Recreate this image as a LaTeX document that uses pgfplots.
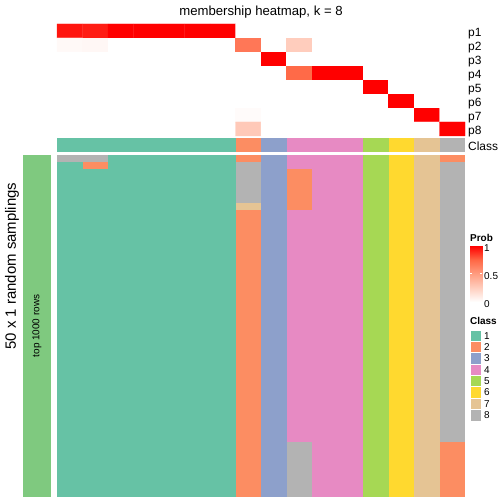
\documentclass[border=0pt]{standalone}
\usepackage{pgfplots}
\pgfplotsset{compat=1.18}
\usepackage{fontspec}
\setmainfont{Liberation Sans}
\definecolor{c1}{RGB}{102,194,165}
\definecolor{c2}{RGB}{252,141,98}
\definecolor{c3}{RGB}{141,160,203}
\definecolor{c4}{RGB}{231,138,195}
\definecolor{c5}{RGB}{166,216,84}
\definecolor{c6}{RGB}{255,217,47}
\definecolor{c7}{RGB}{229,196,148}
\definecolor{c8}{RGB}{179,179,179}
\definecolor{ann}{RGB}{127,201,127}
\newcommand{\blk}[5]{\addplot[fill=#5,draw=none] coordinates {(#1,#3) (#2,#3) (#2,#4) (#1,#4)} -- cycle;}
\pgfplotsset{
  wrmap/.style={colormap={wr}{rgb255=(255,255,255) rgb255=(255,207,191) rgb255=(255,158,130) rgb255=(255,104,70) rgb255=(255,0,0)}},
  bare/.style={scale only axis, axis line style={draw=none}, major tick length=0pt, xtick=\empty, ytick=\empty, clip=false},
}
\begin{document}
\begin{tikzpicture}
\path[use as bounding box] (0,0) rectangle (504bp,504bp);

% probability heatmap
\begin{axis}[bare, at={(57bp,480bp)}, anchor=north west, width=408bp, height=112bp,
  xmin=0.5, xmax=16.5, ymin=0.5, ymax=8.5, y dir=reverse,
  ytick={1,2,3,4,5,6,7,8}, yticklabels={p1,p2,p3,p4,p5,p6,p7,p8}, yticklabel pos=right,
  yticklabel style={anchor=west, inner sep=0pt, xshift=3bp, yshift=-2.5bp, font=\fontsize{12}{14}\selectfont},
  wrmap, point meta min=0, point meta max=1,
  title={membership heatmap, k = 8},
  title style={at={(0.5,1)}, anchor=base, inner sep=0pt, yshift=2.5bp, font=\fontsize{13.2}{15}\selectfont},
]
\addplot[matrix plot*, mesh/cols=16, point meta=explicit] coordinates {
(1,1)[0.95] (2,1)[0.93] (3,1)[1] (4,1)[1] (5,1)[1] (6,1)[1] (7,1)[1] (8,1)[0] (9,1)[0] (10,1)[0] (11,1)[0] (12,1)[0] (13,1)[0] (14,1)[0] (15,1)[0] (16,1)[0]
(1,2)[0.03] (2,2)[0.04] (3,2)[0] (4,2)[0] (5,2)[0] (6,2)[0] (7,2)[0] (8,2)[0.68] (9,2)[0] (10,2)[0.26] (11,2)[0] (12,2)[0] (13,2)[0] (14,2)[0] (15,2)[0] (16,2)[0]
(1,3)[0] (2,3)[0] (3,3)[0] (4,3)[0] (5,3)[0] (6,3)[0] (7,3)[0] (8,3)[0] (9,3)[1] (10,3)[0] (11,3)[0] (12,3)[0] (13,3)[0] (14,3)[0] (15,3)[0] (16,3)[0]
(1,4)[0] (2,4)[0] (3,4)[0] (4,4)[0] (5,4)[0] (6,4)[0] (7,4)[0] (8,4)[0] (9,4)[0] (10,4)[0.74] (11,4)[1] (12,4)[1] (13,4)[0] (14,4)[0] (15,4)[0] (16,4)[0]
(1,5)[0] (2,5)[0] (3,5)[0] (4,5)[0] (5,5)[0] (6,5)[0] (7,5)[0] (8,5)[0] (9,5)[0] (10,5)[0] (11,5)[0] (12,5)[0] (13,5)[1] (14,5)[0] (15,5)[0] (16,5)[0]
(1,6)[0] (2,6)[0] (3,6)[0] (4,6)[0] (5,6)[0] (6,6)[0] (7,6)[0] (8,6)[0] (9,6)[0] (10,6)[0] (11,6)[0] (12,6)[0] (13,6)[0] (14,6)[1] (15,6)[0] (16,6)[0]
(1,7)[0] (2,7)[0] (3,7)[0] (4,7)[0] (5,7)[0] (6,7)[0] (7,7)[0] (8,7)[0.02] (9,7)[0] (10,7)[0] (11,7)[0] (12,7)[0] (13,7)[0] (14,7)[0] (15,7)[1] (16,7)[0]
(1,8)[0] (2,8)[0] (3,8)[0] (4,8)[0] (5,8)[0] (6,8)[0] (7,8)[0] (8,8)[0.28] (9,8)[0] (10,8)[0] (11,8)[0] (12,8)[0] (13,8)[0] (14,8)[0] (15,8)[0] (16,8)[1]
};
\end{axis}

% class row
\begin{axis}[bare, at={(57bp,366bp)}, anchor=north west, width=408bp, height=14bp,
  xmin=0, xmax=16, ymin=0, ymax=1,
  ytick={0.5}, yticklabels={Class}, yticklabel pos=right,
  yticklabel style={anchor=west, inner sep=0pt, xshift=3bp, yshift=-1bp, font=\fontsize{12}{14}\selectfont},
]
\blk{0}{7}{0}{1}{c1}
\blk{7}{8}{0}{1}{c2}
\blk{8}{9}{0}{1}{c3}
\blk{9}{12}{0}{1}{c4}
\blk{12}{13}{0}{1}{c5}
\blk{13}{14}{0}{1}{c6}
\blk{14}{15}{0}{1}{c7}
\blk{15}{16}{0}{1}{c8}
\end{axis}

% main membership matrix (50 samplings)
\begin{axis}[bare, at={(57bp,349bp)}, anchor=north west, width=408bp, height=342bp,
  xmin=0, xmax=16, ymin=0, ymax=50, y dir=reverse]
\blk{0}{7}{0}{50}{c1}
\blk{7}{8}{0}{50}{c2}
\blk{8}{9}{0}{50}{c3}
\blk{9}{12}{0}{50}{c4}
\blk{12}{13}{0}{50}{c5}
\blk{13}{14}{0}{50}{c6}
\blk{14}{15}{0}{50}{c7}
\blk{15}{16}{0}{50}{c8}
\blk{0}{2}{0}{1}{c8}
\blk{1}{2}{1}{2}{c2}
\blk{7}{8}{1}{7}{c8}
\blk{7}{8}{7}{8}{c7}
\blk{9}{10}{2}{8}{c2}
\blk{9}{10}{42}{50}{c8}
\blk{15}{16}{0}{1}{c2}
\blk{15}{16}{42}{50}{c2}
\end{axis}

% left annotation
\begin{axis}[bare, at={(23bp,349bp)}, anchor=north west, width=28bp, height=342bp,
  xmin=0, xmax=1, ymin=0, ymax=1,
  xlabel={top 1000 rows},
  xlabel style={at={(axis description cs:0.5,0.5)}, anchor=center, rotate=90, inner sep=0pt, font=\fontsize{10}{12}\selectfont},
  ylabel={50 x 1 random samplings},
  ylabel style={at={(axis description cs:-0.393,0.675)}, anchor=center, inner sep=0pt, font=\fontsize{15}{17}\selectfont},
]
\addplot[fill=ann, draw=none] coordinates {(0,0) (1,0) (1,1) (0,1)} -- cycle;
\end{axis}

% Prob legend
\begin{axis}[scale only axis, at={(470bp,258.3bp)}, anchor=north west, width=12bp, height=56.3bp,
  xmin=0, xmax=1, ymin=0, ymax=1, axis line style={draw=none}, xtick=\empty,
  ytick={0,0.5,1}, yticklabels={0,0.5,1}, ytick pos=both, yticklabel pos=right,
  tick align=inside, major tick length=2bp, tick style={white, line width=0.8bp},
  yticklabel style={anchor=west, inner sep=0pt, xshift=2bp, yshift=-2.5bp, font=\fontsize{10}{12}\selectfont},
  axis on top, wrmap, point meta min=0, point meta max=1,
  title={\bfseries Prob},
  title style={at={(0,1)}, anchor=base west, inner sep=0pt, yshift=-1.3bp, font=\fontsize{10}{12}\selectfont},
]
\addplot[patch, patch type=rectangle, shader=interp, point meta=explicit] coordinates {(0,0)[0] (1,0)[0] (1,1)[1] (0,1)[1]};
\end{axis}

% Class legend
\begin{axis}[bare, at={(470bp,174bp)}, anchor=north west, width=11bp, height=91bp,
  xmin=0, xmax=1, ymin=0, ymax=8, y dir=reverse,
  ytick={0.5,1.5,2.5,3.5,4.5,5.5,6.5,7.5}, yticklabels={1,2,3,4,5,6,7,8}, yticklabel pos=right,
  yticklabel style={anchor=west, inner sep=0pt, xshift=3bp, font=\fontsize{10}{12}\selectfont},
  title={\bfseries Class},
  title style={at={(0,1)}, anchor=base west, inner sep=0pt, yshift=-0.5bp, font=\fontsize{10}{12}\selectfont},
]
\addplot[fill=c1, draw=white, line width=0.8bp] coordinates {(0,0) (1,0) (1,1) (0,1)} -- cycle;
\addplot[fill=c2, draw=white, line width=0.8bp] coordinates {(0,1) (1,1) (1,2) (0,2)} -- cycle;
\addplot[fill=c3, draw=white, line width=0.8bp] coordinates {(0,2) (1,2) (1,3) (0,3)} -- cycle;
\addplot[fill=c4, draw=white, line width=0.8bp] coordinates {(0,3) (1,3) (1,4) (0,4)} -- cycle;
\addplot[fill=c5, draw=white, line width=0.8bp] coordinates {(0,4) (1,4) (1,5) (0,5)} -- cycle;
\addplot[fill=c6, draw=white, line width=0.8bp] coordinates {(0,5) (1,5) (1,6) (0,6)} -- cycle;
\addplot[fill=c7, draw=white, line width=0.8bp] coordinates {(0,6) (1,6) (1,7) (0,7)} -- cycle;
\addplot[fill=c8, draw=white, line width=0.8bp] coordinates {(0,7) (1,7) (1,8) (0,8)} -- cycle;
\end{axis}
\end{tikzpicture}
\end{document}
